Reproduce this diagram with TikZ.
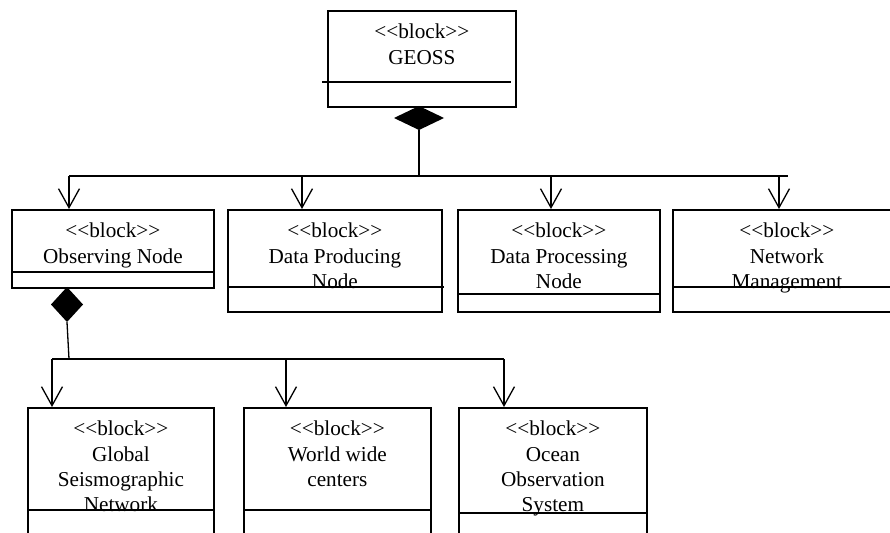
\documentclass[tikz,border=0pt]{standalone}
\usepackage{fontspec}
\setmainfont{Liberation Serif}[Ligatures=TeXOff]
\usetikzlibrary{arrows.meta,calc}
\begin{document}
\begin{tikzpicture}[x=1bp,y=-1bp,
  blockbox/.style={draw,line width=1.8bp,inner sep=0pt,anchor=north west},
  sepline/.style={line width=1.3bp},
  lbl/.style={align=center,anchor=north,inner sep=0pt,font=\fontsize{21.2bp}{25.3bp}\selectfont},
  conn/.style={line width=1.3bp},
  arr/.style={conn,-{Straight Barb[length=19bp,width=21bp]}},
  comp/.style={fill=black},
]
\useasboundingbox (0,0) rectangle (890,533);
\fill[white] (0,0) rectangle (890,533);
\begin{scope}
\clip (0,0) rectangle (890,533);
% boxes
\node[blockbox,minimum width=188bp,minimum height=96bp]  (geoss) at (327,10) {};
\node[blockbox,minimum width=202bp,minimum height=78bp]  (obs)   at (11,209) {};
\node[blockbox,minimum width=214bp,minimum height=102bp] (prod)  at (227,209) {};
\node[blockbox,minimum width=202bp,minimum height=102bp] (proc)  at (457,209) {};
\node[blockbox,minimum width=228bp,minimum height=102bp] (net)   at (672,209) {};
\node[blockbox,minimum width=186bp,minimum height=140bp] (gsn)   at (27,407) {};
\node[blockbox,minimum width=187bp,minimum height=140bp] (wwc)   at (243,407) {};
\node[blockbox,minimum width=188bp,minimum height=140bp] (oos)   at (458,407) {};
% compartment lines
\draw[sepline] (322,82) -- (511,82);
\draw[sepline] (11,272) -- (213,272);
\draw[sepline] (227,287) -- (444,287);
\draw[sepline] (457,294) -- (659,294);
\draw[sepline] (672,287) -- (900,287);
\draw[sepline] (27,510) -- (213,510);
\draw[sepline] (243,510) -- (430,510);
\draw[sepline] (458,513) -- (646,513);
% labels (north anchor = top of first line, about 15bp above its baseline)
\node[lbl] (lgeoss) at ($(geoss.north)+(0,14)$) {<<block>>\\GEOSS};
\node[lbl] (lobs)   at ($(obs.north)+(0,14)$)   {<<block>>\\Observing Node};
\node[lbl] (lprod)  at ($(prod.north)+(0,14)$)  {<<block>>\\Data Producing\\Node};
\node[lbl] (lproc)  at ($(proc.north)+(0,14)$)  {<<block>>\\Data Processing\\Node};
\node[lbl] (lnet)   at ($(net.north)+(0,14)$)   {<<block>>\\Network\\Management};
\node[lbl] (lgsn)   at ($(gsn.north)+(0,14)$)   {<<block>>\\Global\\Seismographic\\Network};
\node[lbl] (lwwc)   at ($(wwc.north)+(0,14)$)   {<<block>>\\World wide\\centers};
\node[lbl] (loos)   at ($(oos.north)+(0,14)$)   {<<block>>\\Ocean\\Observation\\System};
% top composition
\coordinate (dgt) at (419,106);
\coordinate (dgb) at (419,130);
\fill[comp] (dgt) -- (444,118) -- (dgb) -- (394,118) -- cycle;
\coordinate (bus1) at (419,176);
\coordinate (bus1end) at (788,176);
\coordinate (t1) at ($(obs.north west)+(58,0)$);
\coordinate (t2) at ($(prod.north west)+(75,0)$);
\coordinate (t3) at ($(proc.north west)+(94,0)$);
\coordinate (t4) at ($(net.north west)+(107,0)$);
\draw[conn] (dgb) -- (bus1);
\draw[conn] (t1 |- bus1) -- (bus1end);
\draw[arr] (t1 |- bus1) -- (t1);
\draw[arr] (t2 |- bus1) -- (t2);
\draw[arr] (t3 |- bus1) -- (t3);
\draw[arr] (t4 |- bus1) -- (t4);
% observing composition
\coordinate (dot) at (67,287);
\coordinate (dob) at (67,322);
\fill[comp] (dot) -- (83,304.5) -- (dob) -- (51,304.5) -- cycle;
\coordinate (bus2) at (69,359);
\coordinate (s1) at ($(gsn.north west)+(25,0)$);
\coordinate (s2) at ($(wwc.north west)+(43,0)$);
\coordinate (s3) at ($(oos.north west)+(46,0)$);
\draw[conn] (dob) -- (bus2);
\draw[conn] (s1 |- bus2) -- (s3 |- bus2);
\draw[arr] (s1 |- bus2) -- (s1);
\draw[arr] (s2 |- bus2) -- (s2);
\draw[arr] (s3 |- bus2) -- (s3);
\end{scope}
\end{tikzpicture}
\end{document}
